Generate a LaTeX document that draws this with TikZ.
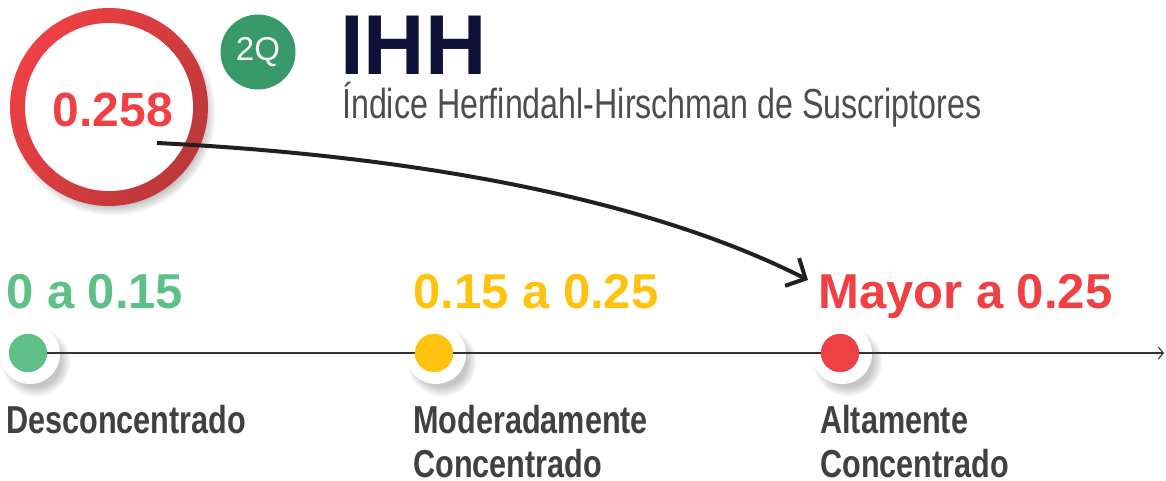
\documentclass[tikz,border=0pt]{standalone}
\usepackage{fontspec}
\setmainfont{Liberation Sans}
\newfontfamily\condfont{Liberation Sans}[FakeStretch=0.785]
\newfontfamily\subfont{Liberation Sans}[FakeStretch=0.767]
\usetikzlibrary{arrows.meta,calc}
\definecolor{cgreen}{RGB}{94,191,135}
\definecolor{cyellow}{RGB}{255,194,14}
\definecolor{cred}{RGB}{239,64,68}
\definecolor{cdarkred}{RGB}{188,56,58}
\definecolor{cnavy}{RGB}{14,17,56}
\definecolor{cbadge}{RGB}{56,153,106}
\definecolor{cgray}{RGB}{64,64,64}
\definecolor{csub}{RGB}{77,77,77}
\definecolor{carrow}{RGB}{35,31,32}
\definecolor{cline}{RGB}{51,51,51}
\begin{document}
\begin{tikzpicture}[x=1pt,y=-1pt,
  lbl/.style={inner sep=0pt, anchor=base west},
  num/.style={lbl, font=\fontsize{49}{53}\selectfont\bfseries},
  cat/.style={lbl, font=\condfont\fontsize{39}{44}\selectfont\bfseries, text=cgray, align=left},
  halo/.style={circle, fill=white, minimum size=60pt, inner sep=0pt},
  dotnode/.style={circle, minimum size=38pt, inner sep=0pt},
]
\useasboundingbox (0,0) rectangle (1166,481);

% ---- big ring with shadow
\coordinate (rc) at (109,107);
\foreach \k in {1,...,8}{
  \fill[black, opacity=0.03] ($(rc)+(4,6)$) circle ({92pt+\k*1.3pt});
}
\shade[top color=cred, bottom color=cdarkred, shading angle=55] (rc) circle (99pt);
\fill[white] (rc) circle (84pt);
\node[inner sep=0pt, anchor=base, text=cred, font=\fontsize{48}{52}\selectfont\bfseries] (val) at (113,127) {0.258};

% ---- badge
\node[circle, fill=cbadge, minimum size=75pt, inner sep=0pt, text=white, font=\fontsize{33}{36}\selectfont] (badge) at (258,52) {2Q};

% ---- title
\node[lbl, text=cnavy, font=\fontsize{85}{90}\selectfont\bfseries] (title) at (340,75) {IHH};
\node[lbl, text=csub, font=\subfont\fontsize{42}{46}\selectfont] (subtitle) at (342,119) {Índice Herfindahl-Hirschman de Suscriptores};

% ---- halos with soft shadows
\foreach \n/\x in {h1/30,h2/436,h3/842}{
  \foreach \k in {1,...,8}{
    \fill[black, opacity=0.03] ($(\x,354)+(6,8)$) circle ({24pt+\k*1.3pt});
  }
  \node[halo] (\n) at (\x,354) {};
}

% ---- dots and axis
\node[dotnode, fill=cgreen] (d1) at (28,353) {};
\node[dotnode, fill=cyellow] (d2) at (434,353) {};
\node[dotnode, fill=cred] (d3) at (840,353) {};
\coordinate (axend) at (1164,353);
\draw[cline, line width=1.5pt, -{Straight Barb[length=5pt,width=12pt,line width=1.1pt]}] (d1.center) -- (axend);
\node[dotnode, fill=cgreen] at (d1) {};
\node[dotnode, fill=cyellow] at (d2) {};
\node[dotnode, fill=cred] at (d3) {};

% ---- range labels
\node[num, text=cgreen] (r1) at (6,308) {0 a 0.15};
\node[num, text=cyellow] (r2) at (413,308) {0.15 a 0.25};
\node[num, text=cred] (r3) at (818,308) {Mayor a 0.25};

% ---- category labels
\node[cat] (c1) at (6,433) {Desconcentrado};
\node[cat] (c2) at (413,477) {Moderadamente\\Concentrado};
\node[cat] (c3) at (820,477) {Altamente\\Concentrado};

% ---- curved arrow
\coordinate (as) at (157,143);
\coordinate (ae) at (808,280);
\draw[carrow, line width=4pt, -{Straight Barb[length=15pt,width=31pt]}] (as) .. controls (400,155) and (640,195) .. (ae);
\end{tikzpicture}
\end{document}
